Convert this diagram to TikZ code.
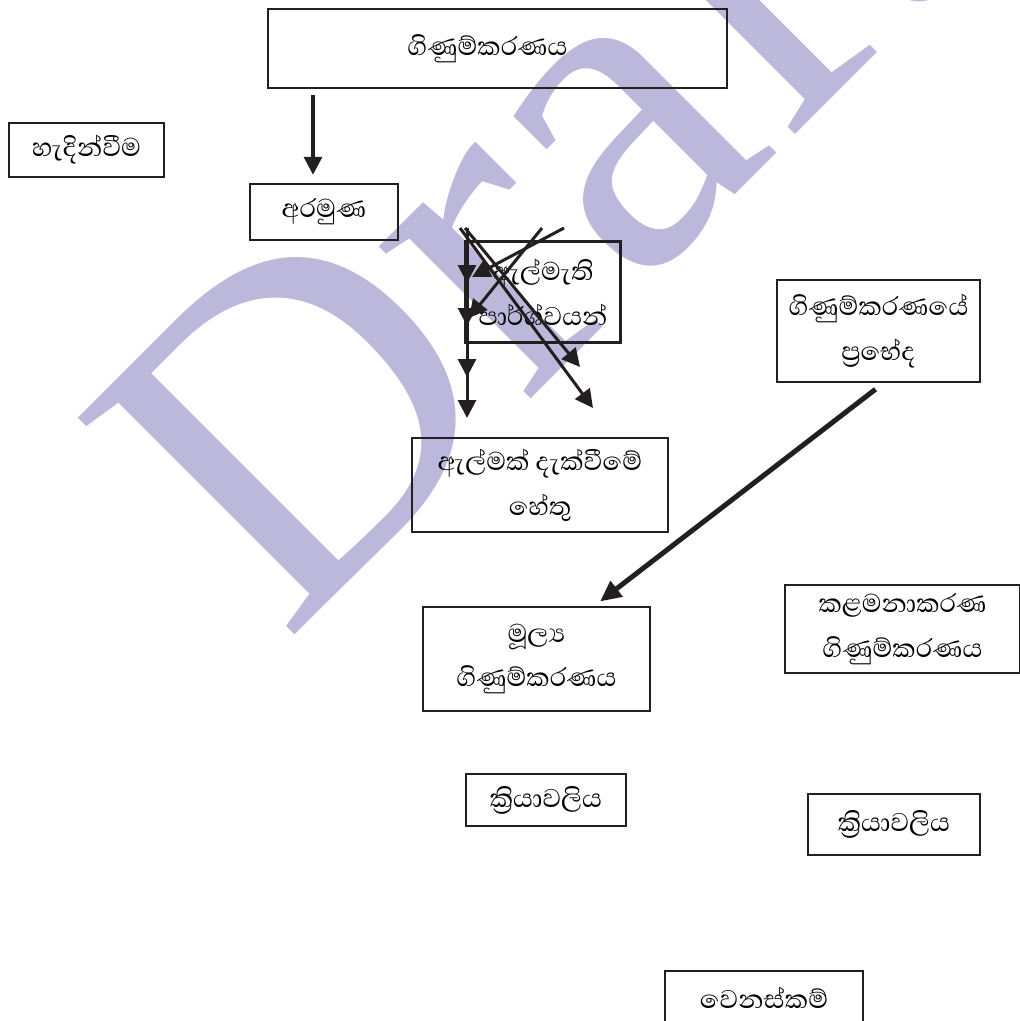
\documentclass[tikz,border=0pt]{standalone}
\usepackage{fontspec}
\setmainfont{Liberation Serif}
\newfontfamily\sinhala[Script=Sinhala]{Abhaya Libre}
\usetikzlibrary{arrows.meta}
\definecolor{wmark}{RGB}{187,184,219}
\definecolor{ink}{RGB}{35,31,32}
\tikzset{>={Triangle[length=18bp,width=18bp]}}
\tikzset{box/.style={draw=ink, line width=2.5bp, align=center, inner sep=0pt, font=\sinhala\fontsize{33}{45}\selectfont}}
\tikzset{link/.style={->, draw=ink, line width=3bp}}

\begin{document}
\begin{tikzpicture}[x=1bp, y=-1bp]
    \useasboundingbox (0,0) rectangle (1020,1021);
    \node[wmark, rotate=45, anchor=base west, inner sep=0pt, font=\fontsize{470}{470}\selectfont] (W) at (285,645) {Draft};

    \node[box, minimum width=459bp, minimum height=79bp] (G) at (497.5,48.5) {ගිණුම්කරණය\hspace{20bp}};
    \node[box, minimum width=155bp, minimum height=54bp] (I) at (86.5,150) {හැදින්වීම};
    \node[box, minimum width=148bp, minimum height=56bp] (A) at (324,212) {අරමුණ};
    \node[box, minimum width=155bp, minimum height=101bp] (P) at (543,292) {ඇල්මැති\\පාර්ශ්වයන්};
    \node[box, minimum width=203bp, minimum height=102bp] (T) at (878.5,331) {ගිණුම්කරණයේ\\ප්‍රභේද};
    \node[box, minimum width=256bp, minimum height=94bp] (R) at (540,485) {ඇල්මක් දැක්වීමේ\\හේතු};
    \node[box, minimum width=227bp, minimum height=104bp] (F) at (536.5,659) {මූල්‍ය\\ගිණුම්කරණය};
    \node[box, minimum width=235bp, minimum height=88bp] (M) at (902.5,629) {කළමනාකරණ\\ගිණුම්කරණය};
    \node[box, minimum width=160bp, minimum height=52bp] (K1) at (546,800) {ක්‍රියාවලිය};
    \node[box, minimum width=172bp, minimum height=61bp] (K2) at (894,824.5) {ක්‍රියාවලිය};
    \node[box, minimum width=198bp, minimum height=54bp] (D) at (764,998) {වෙනස්කම්};

    \coordinate (Ain) at ([xshift=-11bp]A.north);
    \draw[->, draw=ink, line width=3.5bp, shorten <=6bp, shorten >=8bp] (Ain |- G.south) -- (Ain);

    \coordinate (c0) at (467,228);
    \coordinate (c1) at (460,228);
    \coordinate (c4) at (465,228);
    \coordinate (c2) at (564,228);
    \coordinate (c3) at (542,228);
    \coordinate (d1) at (467,283);
    \coordinate (d2) at (467,326);
    \coordinate (d3) at (467,377);
    \coordinate (d4) at (467,418);
    \coordinate (e1) at (580,367);
    \coordinate (e2) at (593,408);
    \coordinate (f1) at (472,277);
    \coordinate (f2) at (469,318);
    \draw[link] (c0) -- (d1);
    \draw[link] (c0) -- (d2);
    \draw[link] (c0) -- (d3);
    \draw[link] (c0) -- (d4);
    \draw[link] (c4) -- (e1);
    \draw[link] (c1) -- (e2);
    \draw[link] (c2) -- (f1);
    \draw[link] (c3) -- (f2);

    \coordinate (Fin) at ([xshift=58bp]F.north);
    \draw[->, >={Triangle[length=21bp,width=19bp]}, draw=ink, line width=5bp, shorten >=7bp] ([xshift=-3bp,yshift=-6bp]T.south) -- (Fin);
\end{tikzpicture}
\end{document}
